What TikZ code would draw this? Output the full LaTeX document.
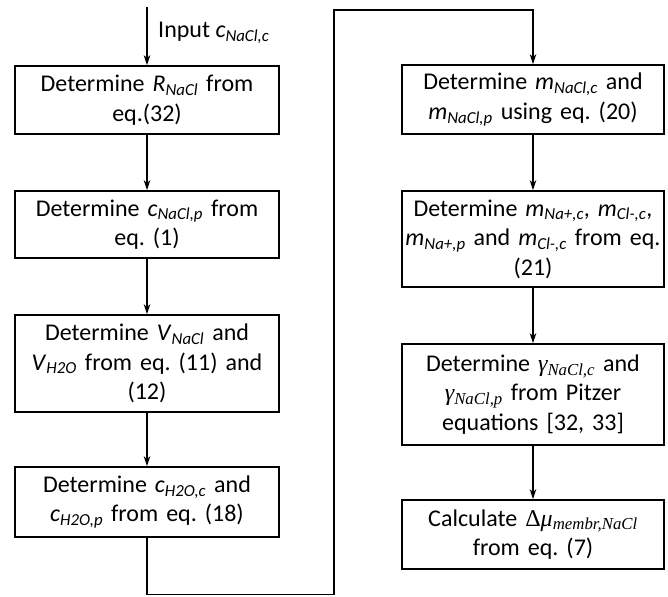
\documentclass[tikz,border=0pt]{standalone}
\usepackage{fontspec}
\setmainfont{Carlito}
\newfontfamily\serifm{Liberation Serif}
\usetikzlibrary{arrows.meta}
\frenchspacing
\newcommand{\vr}[2]{\textit{#1}\textsubscript{\textit{#2}}}
\newcommand{\mv}[2]{{\serifm\itshape #1\textsubscript{#2}}}
\begin{document}
\begin{tikzpicture}[x=1pt,y=-1pt,
  box/.style={draw, line width=1.7pt, align=center, inner sep=2pt,
    font=\fontsize{24}{29.5}\selectfont},
  lbox/.style={box, minimum width=264pt, text width=256pt},
  rbox/.style={box, minimum width=262pt, text width=256pt},
  conn/.style={line width=1.3pt, -{Stealth[length=10pt,width=6.5pt,inset=3pt]}},
  plain/.style={line width=1.3pt}]
\useasboundingbox (0,0) rectangle (668,596);
% left column
\node[lbox, minimum height=68pt] (b1) at (147,100) {Determine \vr{R}{NaCl} from\\eq.(32)};
\node[lbox, minimum height=67pt] (b2) at (147,224.5) {Determine \vr{c}{NaCl,p} from\\eq. (1)};
\node[lbox, minimum height=97pt] (b3) at (147,363.5) {Determine \vr{V}{NaCl} and\\\vr{V}{H2O} from eq. (11) and\\(12)};
\node[lbox, minimum height=70pt] (b4) at (147,502) {Determine \vr{c}{H2O,c} and\\\vr{c}{H2O,p} from eq. (18)};
% right column
\node[rbox, minimum height=69pt] (b5) at (533,99.5) {Determine \vr{m}{NaCl,c} and\\\vr{m}{NaCl,p} using eq. (20)};
\node[rbox, minimum height=96pt] (b6) at (533,239) {Determine \vr{m}{Na+,c}, \vr{m}{Cl-,c},\\\vr{m}{Na+,p} and \vr{m}{Cl-,c} from eq.\\(21)};
\node[rbox, minimum height=101pt] (b7) at (533,394.5) {Determine \mv{γ}{NaCl,c} and\\\mv{γ}{NaCl,p} from Pitzer\\equations [32, 33]};
\node[rbox, minimum height=69pt] (b8) at (533,534.5) {Calculate {\serifm Δ\itshape μ\textsubscript{membr,NaCl}}\\from eq. (7)};
% input
\coordinate (in) at (147,7);
\node[anchor=west, font=\fontsize{24}{29.5}\selectfont, inner sep=0pt] (inlab) at (158,33) {Input \vr{c}{NaCl,c}};
\draw[conn] (in) -- (b1.north);
\draw[conn] (b1) -- (b2);
\draw[conn] (b2) -- (b3);
\draw[conn] (b3) -- (b4);
\coordinate (lb) at (147,594.5);
\coordinate (rb) at (334,594.5);
\coordinate (rt) at (334,10);
\coordinate (tt) at (533,10);
\draw[conn] (b4.south) -- (lb) -- (rb) -- (rt) -- (tt) -- (b5.north);
\draw[conn] (b5) -- (b6);
\draw[conn] (b6) -- (b7);
\draw[conn] (b7) -- (b8);
\end{tikzpicture}
\end{document}
